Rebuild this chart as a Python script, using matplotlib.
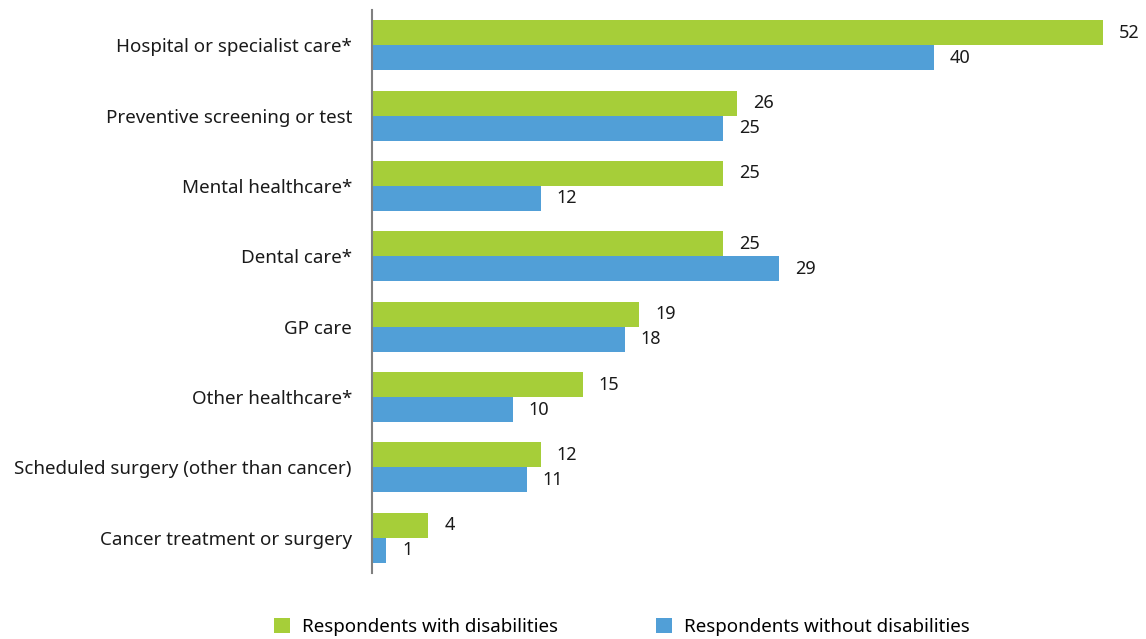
import matplotlib
matplotlib.use("Agg")
import matplotlib.pyplot as plt
import numpy as np

categories = ["Hospital or specialist care*", "Preventive screening or test", "Mental healthcare*",
              "Dental care*", "GP care", "Other healthcare*",
              "Scheduled surgery (other than cancer)", "Cancer treatment or surgery"]
with_dis = [52, 26, 25, 25, 19, 15, 12, 4]
without_dis = [40, 25, 12, 29, 18, 10, 11, 1]
series_names = ["Respondents with disabilities", "Respondents without disabilities"]

plt.rcParams['font.family'] = ['Noto Sans', 'DejaVu Sans']
green = "#A6CE39"
blue = "#519FD7"

fig = plt.figure(figsize=(11.46, 6.39), dpi=100)
ax = fig.add_axes([372/1146, 66/639, 767/1146, 563/639])

y = np.arange(len(categories))
h = 0.355
b1 = ax.barh(y - h/2, with_dis, height=h, color=green, label=series_names[0])
b2 = ax.barh(y + h/2, without_dis, height=h, color=blue, label=series_names[1])

for bars, vals in ((b1, with_dis), (b2, without_dis)):
    for rect, v in zip(bars, vals):
        ax.annotate(str(v), (rect.get_width(), rect.get_y() + rect.get_height()/2),
                    xytext=(16, 0), textcoords="offset pixels",
                    va="center", ha="left", fontsize=13, color="#1a1a1a")

ax.set_xlim(0, 767/14.05)
ax.set_ylim(7.5, -0.5)
ax.set_yticks(y)
ax.set_yticklabels(categories, fontsize=13.5, color="#1a1a1a")
ax.tick_params(axis="y", length=0, pad=14.4)
ax.set_xticks([])
for s in ["top", "right", "bottom"]:
    ax.spines[s].set_visible(False)
ax.spines["left"].set_color("#808080")
ax.spines["left"].set_linewidth(1.5)

fig.legend(handles=[b1, b2], labels=series_names, loc="center", bbox_to_anchor=(622/1146, 1 - 627/639),
           ncol=2, frameon=False, fontsize=13.5, handlelength=0.85, handleheight=0.85,
           handletextpad=0.64, columnspacing=5.2)

fig.savefig("out.png", dpi=100)
